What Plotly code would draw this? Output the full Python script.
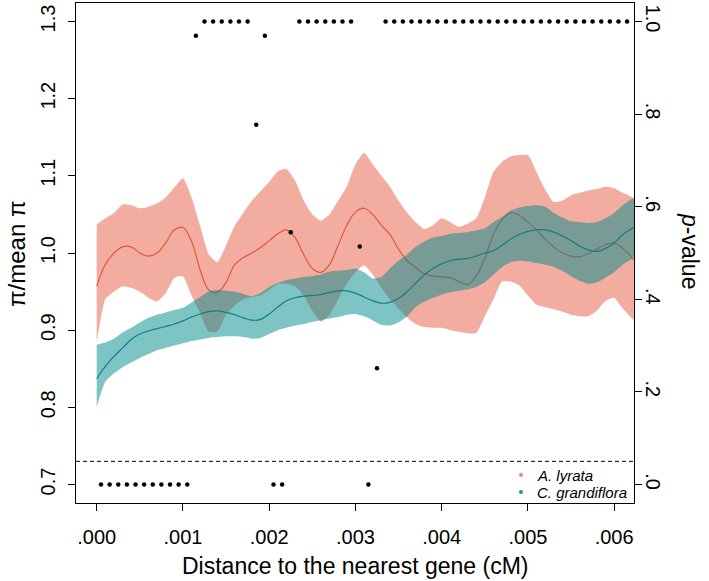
import plotly.graph_objects as go

# ---------------- data ----------------
DIST = [0.0000, 0.0001, 0.0002, 0.0003, 0.0004, 0.0005, 0.0006, 0.0007, 0.0008, 0.0009,
        0.0010, 0.0011, 0.0012, 0.0013, 0.0014, 0.0015, 0.0016, 0.0017, 0.0018, 0.0019,
        0.0020, 0.0021, 0.0022, 0.0023, 0.0024, 0.0025, 0.0026, 0.0027, 0.0028, 0.0029,
        0.0030, 0.0031, 0.0032, 0.0033, 0.0034, 0.0035, 0.0036, 0.0037, 0.0038, 0.0039,
        0.0040, 0.0041, 0.0042, 0.0043, 0.0044, 0.0045, 0.0046, 0.0047, 0.0048, 0.0049,
        0.0050, 0.0051, 0.0052, 0.0053, 0.0054, 0.0055, 0.0056, 0.0057, 0.0058, 0.0059,
        0.0060, 0.0061, 0.00623]

LYRATA_MEAN = [0.957, 0.985, 1.000, 1.008, 1.008, 1.000, 0.996, 1.000, 1.013, 1.030,
               1.033, 1.015, 0.978, 0.952, 0.949, 0.962, 0.985, 0.994, 1.000, 1.007,
               1.016, 1.025, 1.030, 1.020, 0.998, 0.980, 0.975, 0.985, 1.010, 1.036,
               1.053, 1.058, 1.050, 1.036, 1.024, 1.005, 0.990, 0.981, 0.973, 0.970,
               0.969, 0.968, 0.963, 0.959, 0.970, 0.993, 1.024, 1.043, 1.052, 1.049,
               1.040, 1.030, 1.018, 1.008, 1.000, 0.996, 0.995, 0.999, 1.005, 1.011,
               1.013, 1.006, 0.991]
LYRATA_UPPER = [1.037, 1.045, 1.052, 1.063, 1.062, 1.058, 1.060, 1.064, 1.072, 1.085,
                1.097, 1.072, 1.035, 0.998, 0.988, 1.010, 1.035, 1.052, 1.068, 1.080,
                1.092, 1.106, 1.109, 1.094, 1.068, 1.050, 1.042, 1.050, 1.068, 1.086,
                1.115, 1.130, 1.115, 1.100, 1.086, 1.068, 1.052, 1.040, 1.031, 1.036,
                1.045, 1.040, 1.034, 1.038, 1.045, 1.072, 1.105, 1.118, 1.125, 1.127,
                1.127, 1.105, 1.082, 1.066, 1.068, 1.075, 1.078, 1.081, 1.083, 1.086,
                1.084, 1.078, 1.070]
LYRATA_LOWER = [0.884, 0.940, 0.950, 0.957, 0.955, 0.950, 0.942, 0.937, 0.948, 0.968,
                0.970, 0.945, 0.922, 0.898, 0.898, 0.920, 0.932, 0.940, 0.943, 0.945,
                0.952, 0.960, 0.960, 0.957, 0.945, 0.925, 0.911, 0.920, 0.940, 0.960,
                0.975, 0.984, 0.972, 0.955, 0.940, 0.928, 0.916, 0.908, 0.904, 0.903,
                0.903, 0.900, 0.898, 0.896, 0.896, 0.918, 0.940, 0.963, 0.963, 0.958,
                0.945, 0.933, 0.930, 0.927, 0.924, 0.920, 0.918, 0.918, 0.925, 0.938,
                0.942, 0.928, 0.914]

GRANDI_MEAN = [0.837, 0.853, 0.866, 0.877, 0.888, 0.895, 0.899, 0.902, 0.905, 0.908,
               0.912, 0.917, 0.921, 0.924, 0.925, 0.923, 0.920, 0.916, 0.913, 0.914,
               0.921, 0.930, 0.938, 0.942, 0.944, 0.945, 0.946, 0.949, 0.951, 0.951,
               0.948, 0.943, 0.938, 0.935, 0.936, 0.941, 0.950, 0.961, 0.972, 0.980,
               0.986, 0.990, 0.992, 0.993, 0.996, 1.000, 1.003, 1.010, 1.018, 1.024,
               1.028, 1.030, 1.030, 1.027, 1.022, 1.016, 1.009, 1.004, 1.002, 1.006,
               1.013, 1.024, 1.033]
GRANDI_UPPER = [0.881, 0.884, 0.889, 0.897, 0.903, 0.910, 0.916, 0.920, 0.923, 0.926,
                0.929, 0.936, 0.943, 0.950, 0.952, 0.951, 0.950, 0.947, 0.944, 0.948,
                0.956, 0.961, 0.965, 0.967, 0.969, 0.970, 0.972, 0.976, 0.977, 0.978,
                0.980, 0.975, 0.967, 0.969, 0.980, 0.990, 0.998, 1.008, 1.015, 1.020,
                1.022, 1.025, 1.026, 1.027, 1.029, 1.032, 1.040, 1.047, 1.055, 1.059,
                1.061, 1.062, 1.060, 1.052, 1.046, 1.041, 1.040, 1.039, 1.040, 1.045,
                1.052, 1.062, 1.071]
GRANDI_LOWER = [0.801, 0.833, 0.844, 0.852, 0.858, 0.864, 0.869, 0.874, 0.877, 0.880,
                0.883, 0.886, 0.888, 0.890, 0.891, 0.892, 0.892, 0.891, 0.889, 0.890,
                0.895, 0.900, 0.903, 0.906, 0.908, 0.911, 0.913, 0.915, 0.917, 0.920,
                0.921, 0.918, 0.913, 0.907, 0.906, 0.910, 0.918, 0.930, 0.937, 0.942,
                0.946, 0.949, 0.951, 0.953, 0.956, 0.962, 0.972, 0.982, 0.988, 0.990,
                0.989, 0.987, 0.985, 0.982, 0.977, 0.970, 0.964, 0.960, 0.962, 0.968,
                0.975, 0.985, 0.995]

P_DIST = [0.00005, 0.00015, 0.00025, 0.00035, 0.00045, 0.00055, 0.00065, 0.00075, 0.00085, 0.00095,
          0.00105, 0.00115, 0.00125, 0.00135, 0.00145, 0.00155, 0.00165, 0.00175, 0.00185, 0.00195,
          0.00205, 0.00215, 0.00225, 0.00235, 0.00245, 0.00255, 0.00265, 0.00275, 0.00285, 0.00295,
          0.00305, 0.00315, 0.00325, 0.00335, 0.00345, 0.00355, 0.00365, 0.00375, 0.00385, 0.00395,
          0.00405, 0.00415, 0.00425, 0.00435, 0.00445, 0.00455, 0.00465, 0.00475, 0.00485, 0.00495,
          0.00505, 0.00515, 0.00525, 0.00535, 0.00545, 0.00555, 0.00565, 0.00575, 0.00585, 0.00595,
          0.00605, 0.00615]
P_VALUE = [0, 0, 0, 0, 0, 0, 0, 0, 0, 0,
           0, 0.969, 1, 1, 1, 1, 1, 1, 0.777, 0.969,
           0, 0, 0.545, 1, 1, 1, 1, 1, 1, 1,
           0.514, 0, 0.251, 1, 1, 1, 1, 1, 1, 1,
           1, 1, 1, 1, 1, 1, 1, 1, 1, 1,
           1, 1, 1, 1, 1, 1, 1, 1, 1, 1,
           1, 1]
ALPHA = 0.05

X_TICKS = [0, 0.001, 0.002, 0.003, 0.004, 0.005, 0.006]
X_LABELS = [".000", ".001", ".002", ".003", ".004", ".005", ".006"]
Y_TICKS = [0.7, 0.8, 0.9, 1.0, 1.1, 1.2, 1.3]
Y_LABELS = ["0.7", "0.8", "0.9", "1.0", "1.1", "1.2", "1.3"]
P_TICKS = [0, 0.2, 0.4, 0.6, 0.8, 1.0]
P_LABELS = [".0", ".2", ".4", ".6", ".8", "1.0"]

SERIES = ["A. lyrata", "C. grandiflora"]

# ---------------- styles ----------------
FONT = "Liberation Sans, Arial, Helvetica, sans-serif"
SALMON_FILL = "rgba(231,104,82,0.55)"
TEAL_FILL = "rgba(0,137,137,0.5)"
RED_LINE = "#E0583F"
TEAL_LINE = "#0E8080"
SALMON_DOT = "#F08A75"
TEAL_DOT = "#1C9A9A"

W, H = 709, 581
ML, MR, MT, MB = 76, 75, 3, 78
PW, PH = W - ML - MR, H - MT - MB


def px_to_paper(px, py):
    return (px - ML) / PW, (H - MB - py) / PH


fig = go.Figure()

# A. lyrata ribbon + mean
fig.add_trace(go.Scatter(
    x=DIST + DIST[::-1], y=LYRATA_UPPER + LYRATA_LOWER[::-1],
    fill="toself", fillcolor=SALMON_FILL, line=dict(width=0, shape="spline", smoothing=0.5),
    mode="lines", showlegend=False, hoverinfo="skip"))
fig.add_trace(go.Scatter(
    x=DIST, y=LYRATA_MEAN, mode="lines",
    line=dict(color=RED_LINE, width=1.2, shape="spline", smoothing=1.0),
    showlegend=False))

# C. grandiflora ribbon + mean
fig.add_trace(go.Scatter(
    x=DIST + DIST[::-1], y=GRANDI_UPPER + GRANDI_LOWER[::-1],
    fill="toself", fillcolor=TEAL_FILL, line=dict(width=0, shape="spline", smoothing=0.5),
    mode="lines", showlegend=False, hoverinfo="skip"))
fig.add_trace(go.Scatter(
    x=DIST, y=GRANDI_MEAN, mode="lines",
    line=dict(color=TEAL_LINE, width=1.2, shape="spline", smoothing=1.0),
    showlegend=False))

# p-values on the right axis
fig.add_trace(go.Scatter(
    x=P_DIST, y=P_VALUE, yaxis="y2", mode="markers",
    marker=dict(color="black", size=4.5), showlegend=False))

# significance threshold
fig.add_shape(type="line", xref="paper", x0=0, x1=1, yref="y2", y0=ALPHA, y1=ALPHA,
              line=dict(color="black", width=1, dash="4px,3px"))

# legend (drawn as symbols + text)
legend_rows = [(SERIES[0], SALMON_DOT, 475), (SERIES[1], TEAL_DOT, 492)]
annotations = []
for name, col, py in legend_rows:
    x0, y0 = px_to_paper(519, py + 2)
    x1, y1 = px_to_paper(523, py - 2)
    fig.add_shape(type="circle", xref="paper", yref="paper", x0=x0, x1=x1, y0=y0, y1=y1,
                  fillcolor=col, line=dict(width=0))
    tx, ty = px_to_paper(535, py)
    annotations.append(dict(text="<i>" + name + "</i>", xref="paper", yref="paper",
                            x=tx, y=ty, xanchor="left", yanchor="middle", showarrow=False,
                            font=dict(size=15)))

tx, ty = px_to_paper(16, 254)
annotations.append(dict(text="π/mean π", xref="paper", yref="paper", x=tx, y=ty,
                        textangle=-90, showarrow=False, xanchor="center", yanchor="middle",
                        font=dict(size=24)))
tx, ty = px_to_paper(690, 251)
annotations.append(dict(text="<i>p</i>-value", xref="paper", yref="paper", x=tx, y=ty,
                        textangle=90, showarrow=False, xanchor="center", yanchor="middle",
                        font=dict(size=23)))
tx, ty = px_to_paper(355, 566)
annotations.append(dict(text="Distance to the nearest gene (cM)", xref="paper", yref="paper",
                        x=tx, y=ty, showarrow=False, xanchor="center", yanchor="middle",
                        font=dict(size=23)))

fig.update_layout(
    width=W, height=H,
    margin=dict(l=ML, r=MR, t=MT, b=MB, autoexpand=False),
    paper_bgcolor="white", plot_bgcolor="white",
    font=dict(family=FONT, size=20, color="black"),
    showlegend=False,
    xaxis=dict(range=[-0.00024, 0.00623], tickvals=X_TICKS, ticktext=X_LABELS,
               ticks="outside", ticklen=7, tickcolor="black", tickwidth=1,
               showline=True, linecolor="black", linewidth=1, mirror=True,
               showgrid=False, zeroline=False, ticklabelstandoff=9,
               tickfont=dict(size=20)),
    yaxis=dict(range=[0.676, 1.324], tickvals=Y_TICKS, ticktext=Y_LABELS,
               ticks="outside", ticklen=7, tickcolor="black", tickwidth=1,
               showline=True, linecolor="black", linewidth=1, mirror=True,
               showgrid=False, zeroline=False, tickangle=-90,
               ticklabelstandoff=5, tickfont=dict(size=20)),
    yaxis2=dict(range=[-0.04, 1.04], tickvals=P_TICKS, ticktext=P_LABELS,
                overlaying="y", side="right",
                ticks="outside", ticklen=7, tickcolor="black", tickwidth=1,
                showline=True, linecolor="black", linewidth=1,
                showgrid=False, zeroline=False, tickangle=90,
                ticklabelstandoff=-4, tickfont=dict(size=20)),
    annotations=annotations,
)

fig.write_html("out.html", config={"displayModeBar": False},
               post_script="document.body.style.margin='0';")
